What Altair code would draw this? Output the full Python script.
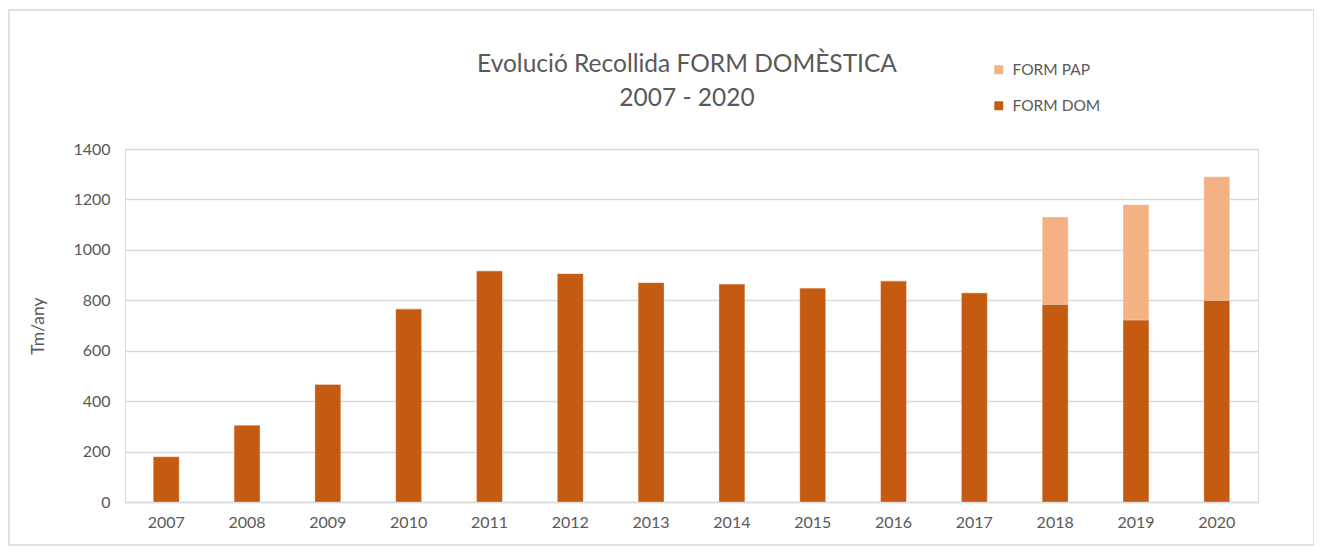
import altair as alt
import pandas as pd

years = [str(y) for y in range(2007, 2021)]
form_dom = [180, 305, 467, 766, 917, 906, 871, 865, 849, 877, 830, 784, 722, 800]
form_pap = [0, 0, 0, 0, 0, 0, 0, 0, 0, 0, 0, 346, 457, 490]
series_names = ["FORM PAP", "FORM DOM"]
series_colors = ["#F4B183", "#C55A11"]
y_ticks = [0, 200, 400, 600, 800, 1000, 1200, 1400]
title_lines = ["Evolució Recollida FORM DOMÈSTICA", "2007 - 2020"]

rows = []
for y, d, p in zip(years, form_dom, form_pap):
    rows.append({"any": y, "serie": "FORM DOM", "valor": d, "ord": 0})
    rows.append({"any": y, "serie": "FORM PAP", "valor": p, "ord": 1})
df = pd.DataFrame(rows)

FONT = "Lato"
TXT = "#595959"
GRID = "#D9D9D9"

W, H = 1133, 353

bars = alt.Chart(df).mark_bar(stroke="white", strokeWidth=0.5, strokeOpacity=0.6).encode(
    x=alt.X("any:N", title=None,
            scale=alt.Scale(paddingInner=0.68, paddingOuter=0.35),
            axis=alt.Axis(labelAngle=0, ticks=False, labelPadding=12, labelFontSize=16,
                          labelColor=TXT, labelFont=FONT, domainColor=GRID, domainWidth=1.5,
                          grid=False)),
    y=alt.Y("valor:Q", stack="zero",
            scale=alt.Scale(domain=[0, 1400], nice=False),
            axis=alt.Axis(values=y_ticks, format="d", title="Tm/any", ticks=False, domain=False,
                          labelPadding=15, labelFontSize=16, labelColor=TXT, labelFont=FONT,
                          gridColor=GRID, gridWidth=1.5,
                          titleFont=FONT, titleFontSize=17.5, titleColor=TXT, titleFontWeight="normal",
                          titleAngle=-90, titleX=-87, titleY=H / 2, titleAlign="center",
                          titleBaseline="middle")),
    color=alt.Color("serie:N",
                    scale=alt.Scale(domain=series_names, range=series_colors),
                    legend=alt.Legend(title=None, orient="none", legendX=866, legendY=-87,
                                      symbolType="square", symbolSize=80, symbolStrokeWidth=0,
                                      labelFont=FONT, labelFontSize=15.5, labelColor=TXT,
                                      rowPadding=19, labelOffset=6)),
    order=alt.Order("ord:Q", sort="ascending"),
)

frame = alt.Chart(pd.DataFrame({"k": [0]})).mark_rect(
    fill=None, stroke="#D9D9D9", strokeWidth=1.5, clip=False
).encode(
    x=alt.value(-116), x2=alt.value(W + 56), y=alt.value(-139), y2=alt.value(H + 43)
)

title1 = alt.Chart(pd.DataFrame({"t": [title_lines[0]]})).mark_text(
    font=FONT, fontSize=24.5, color=TXT, align="center", baseline="middle", clip=False
).encode(text="t:N", x=alt.value(562), y=alt.value(-84))

title2 = alt.Chart(pd.DataFrame({"t": [title_lines[1]]})).mark_text(
    font=FONT, fontSize=24.5, color=TXT, align="center", baseline="middle", clip=False
).encode(text="t:N", x=alt.value(562), y=alt.value(-50))

chart = alt.layer(frame, bars, title1, title2).properties(
    width=W, height=H,
    autosize=alt.AutoSizeParams(type="none"),
    padding={"left": 117, "top": 141, "right": 56, "bottom": 45},
).configure_view(stroke=None).configure(background="white")

chart.save("out.html", embed_options={"renderer": "svg", "actions": False})
